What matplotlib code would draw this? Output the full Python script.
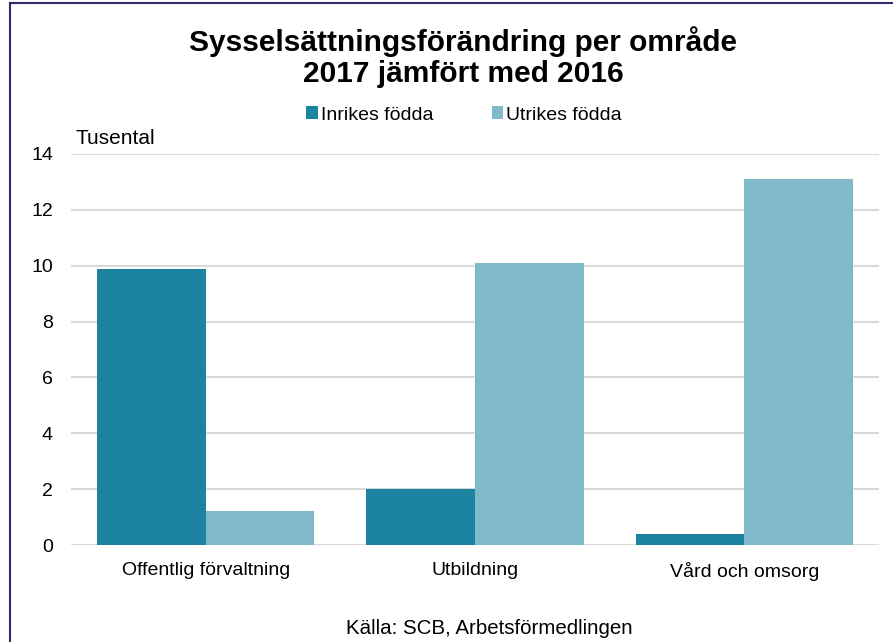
import numpy as np
import matplotlib.pyplot as plt
from matplotlib.lines import Line2D

plt.rcParams['font.family'] = ['Liberation Sans', 'DejaVu Sans']

categories = ["Offentlig förvaltning", "Utbildning", "Vård och omsorg"]
inrikes = [9.9, 2.0, 0.4]
utrikes = [1.2, 10.1, 13.1]
series_names = ["Inrikes födda", "Utrikes födda"]
yticks = [0, 2, 4, 6, 8, 10, 12, 14]

dark = "#1C84A0"
light = "#7FB9CA"

W, H = 893, 642
fig = plt.figure(figsize=(W / 100, H / 100), dpi=100)
ax = fig.add_axes([71 / W, 1 - 545 / H, (879 - 71) / W, (545 - 154) / H])

x = np.arange(len(categories))
bw = 0.403
ax.bar(x - bw / 2, inrikes, bw, color=dark, label=series_names[0], zorder=3)
ax.bar(x + bw / 2, utrikes, bw, color=light, label=series_names[1], zorder=3)

ax.set_xlim(-0.5, len(categories) - 0.5)
ax.set_ylim(0, 14)
ax.set_yticks(yticks)
ax.set_yticklabels([str(t) for t in yticks], fontsize=14)
ax.set_xticks(x)
ax.set_xticklabels(categories, fontsize=14)
ax.tick_params(length=0)
ax.tick_params(axis='x', pad=12)
ax.tick_params(axis='y', pad=13)
ax.grid(axis='y', color='#D9D9D9', linewidth=1.5, zorder=0)
for s in ax.spines.values():
    s.set_visible(False)

fig.text(463 / W, 1 - 57 / H, "Sysselsättningsförändring per område\n2017 jämfört med 2016",
         ha='center', va='center', fontsize=21.5, fontweight='bold', linespacing=1.1)
fig.legend(loc='center', bbox_to_anchor=(464 / W, 1 - 115 / H), ncol=2, frameon=False,
           fontsize=14, handlelength=0.6, handleheight=0.6, columnspacing=3.0, handletextpad=0.15)
fig.text(75 / W, 1 - 139 / H, "Tusental", ha='left', va='center', fontsize=15)
fig.text(489 / W, 1 - 629 / H, "Källa: SCB, Arbetsförmedlingen", ha='center', va='center', fontsize=14.8)

# frame around the chart
fig.add_artist(Line2D([10 / W, 10 / W], [0, 1 - 3 / H], color='#2E2E6E', linewidth=1.5))
fig.add_artist(Line2D([10 / W, 1], [1 - 3 / H, 1 - 3 / H], color='#2E2E6E', linewidth=1.5))

fig.savefig("out.png", dpi=100)
